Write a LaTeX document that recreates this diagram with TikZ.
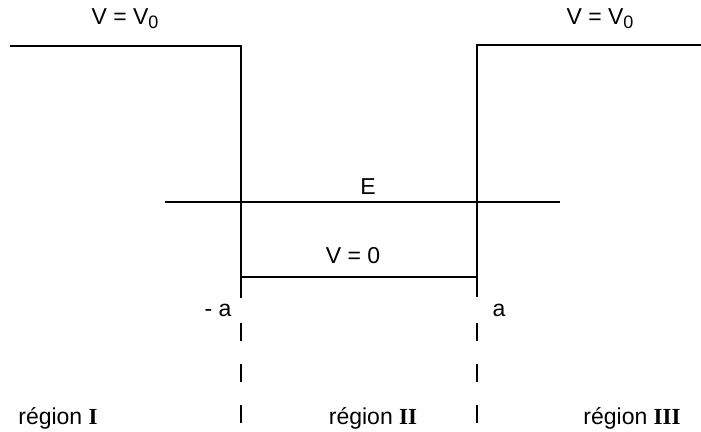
\documentclass[tikz,border=0pt]{standalone}
\usepackage{fontspec}
\setmainfont{Liberation Sans}
\newfontfamily\romfont{Liberation Serif}
\newcommand{\subz}{\raisebox{-0.35ex}{\fontsize{18}{18}\selectfont 0}}
\begin{document}
\begin{tikzpicture}[x=1pt,y=-1pt,
  wall/.style={line width=1.3pt},
  lbl/.style={font=\fontsize{23}{26}\selectfont, inner sep=0pt},
  guide/.style={line width=1.2pt, dash pattern=on 18pt off 23pt}]
\useasboundingbox (0,0) rectangle (701,431);
% coordinates
\coordinate (tl) at (10,46);
\coordinate (lw) at (241,46);
\coordinate (lb) at (241,277);
\coordinate (lend) at (241,298);
\coordinate (rb) at (477,277);
\coordinate (rw) at (477,45);
\coordinate (rend) at (477,297);
\coordinate (tr) at (701,45);
\coordinate (e1) at (165,202);
\coordinate (e2) at (560,202);
\coordinate (ld1) at (241,323);
\coordinate (ld2) at (241,431);
\coordinate (rd1) at (477,323);
\coordinate (rd2) at (477,431);
% potential
\draw[wall] (tl) -- (lw) -- (lend);
\draw[wall] (lb) -- (rb);
\draw[wall, line width=1.7pt] (rend) -- (rw) -- (tr);
\draw[wall] (e1) -- (e2);
% guides
\draw[guide] (ld1) -- (ld2);
\draw[guide] (rd1) -- (rd2);
% labels
\node[lbl] (v0l) at (125,19) {V = V\subz};
\node[lbl] (v0r) at (600,19) {V = V\subz};
\node[lbl] (E) at (368,187) {E};
\node[lbl] (V0) at (353,256) {V = 0};
\node[lbl] (ma) at (218,310) {- a};
\node[lbl] (a) at (499,310) {a};
\node[lbl] (r1) at (58,418) {région {\romfont\bfseries I}};
\node[lbl] (r2) at (373,418) {région {\romfont\bfseries II}};
\node[lbl] (r3) at (632,418) {région {\romfont\bfseries III}};
\end{tikzpicture}
\end{document}
